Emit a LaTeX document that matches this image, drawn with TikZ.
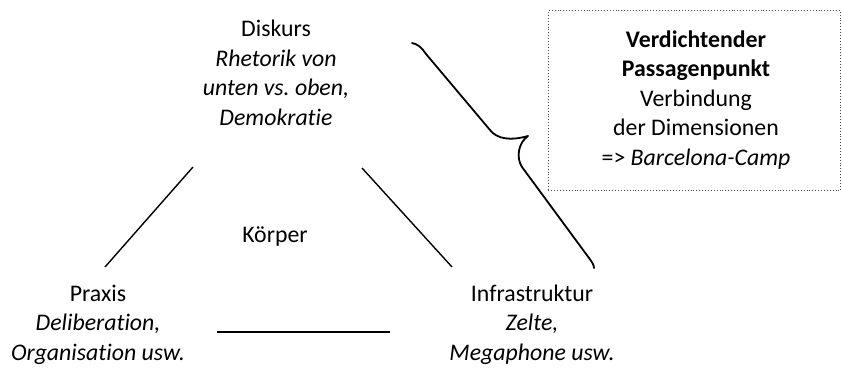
\documentclass[tikz,border=0pt]{standalone}
\usepackage{fontspec}
\setmainfont[Ligatures={NoCommon,TeX}]{Carlito}
\frenchspacing
\begin{document}
\begin{tikzpicture}[x=1pt,y=-1pt,
  lbl/.style={align=center,inner sep=0pt,font=\fontsize{23.8}{29.5}\selectfont,anchor=base},
  edge/.style={line width=1.4pt,black},
  bracepath/.style={line width=1.8pt,black,line join=round,line cap=round},
  dotbox/.style={draw=black!70,line width=0.9pt,dotted}]
\useasboundingbox (0,0) rectangle (842,367);
\node[lbl] (disk) at (276,125) {Diskurs\\\textit{Rhetorik von}\\\textit{unten vs. oben,}\\\textit{Demokratie}};
\node[lbl] (koer) at (275,242) {Körper};
\node[lbl] (prax) at (98,360) {Praxis\\\textit{Deliberation,}\\\textit{Organisation usw.}};
\node[lbl] (infra) at (532,360) {Infrastruktur\\\textit{Zelte,}\\\textit{Megaphone usw.}};
\node[dotbox,minimum width=292,minimum height=180,anchor=north west] (box) at (548,10) {};
\node[lbl] (vtext) at (696,165) {\textbf{Verdichtender}\\\textbf{Passagenpunkt}\\Verbindung\\der Dimensionen\\=> \textit{Barcelona-Camp}};
\coordinate (l1a) at (193,167); \coordinate (l1b) at (105,267);
\coordinate (l2a) at (362,168); \coordinate (l2b) at (452,267);
\coordinate (l3a) at (217,332); \coordinate (l3b) at (390,332);
\draw[edge] (l1a) -- (l1b);
\draw[edge] (l2a) -- (l2b);
\draw[edge] (l3a) -- (l3b);
\coordinate (bt) at (412,43);
\coordinate (btip) at (528,136);
\coordinate (bb) at (594,268);
\draw[bracepath] (bt) .. controls (418,44) and (422,48) .. (426,54) -- (490,130)
  .. controls (497,139) and (510,141) .. (btip)
  .. controls (518,143) and (516,158) .. (522,167) -- (589,258)
  .. controls (592,262) and (594,265) .. (bb);
\end{tikzpicture}
\end{document}
